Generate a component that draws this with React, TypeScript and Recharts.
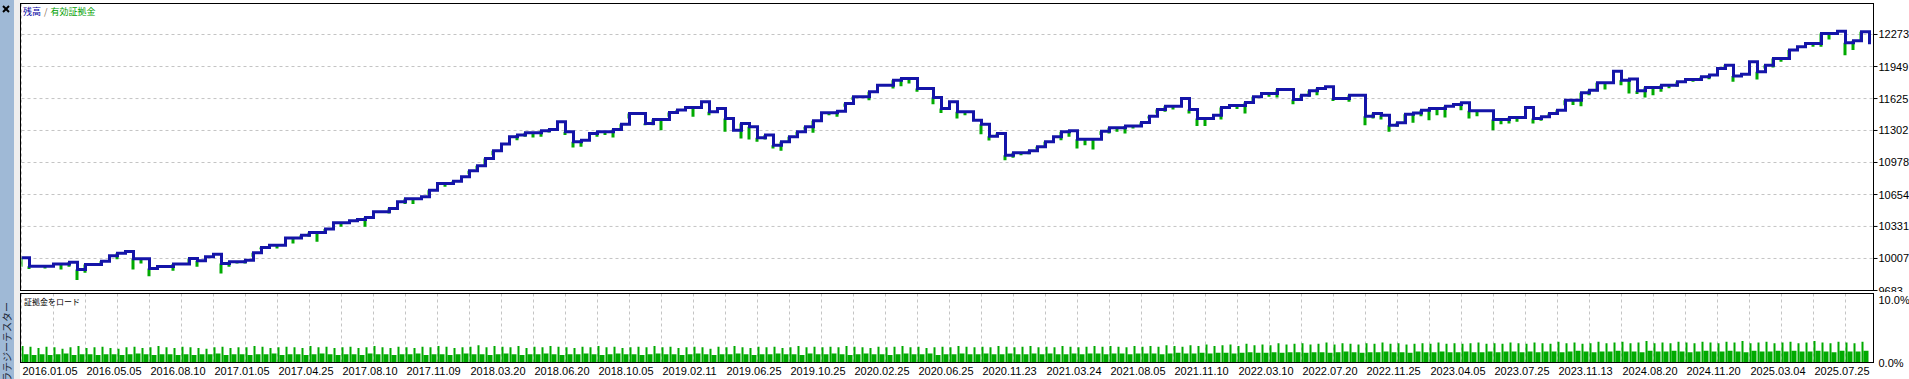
import { ComposedChart, Line, Bar, XAxis, YAxis, CartesianGrid } from 'recharts';

// balance, one value per 8px trade step
const balance = [
  10014, 9929, 9929, 9929, 9950, 9950, 9970, 9896, 9946, 9946,
  9980, 10034, 10061, 10078, 10004, 10004, 9906, 9926, 9926, 9950,
  9950, 10007, 9983, 10024, 10051, 9956, 9973, 9973, 9990, 10064,
  10118, 10142, 10142, 10213, 10213, 10243, 10270, 10270, 10304, 10368,
  10368, 10388, 10402, 10422, 10479, 10479, 10513, 10580, 10611, 10611,
  10631, 10698, 10766, 10766, 10789, 10833, 10894, 10944, 11019, 11096,
  11164, 11238, 11255, 11278, 11278, 11298, 11312, 11390, 11288, 11187,
  11204, 11271, 11288, 11288, 11312, 11366, 11474, 11474, 11373, 11413,
  11413, 11484, 11508, 11535, 11535, 11592, 11491, 11524, 11423, 11305,
  11373, 11339, 11228, 11255, 11153, 11187, 11238, 11288, 11339, 11400,
  11481, 11481, 11497, 11575, 11642, 11642, 11693, 11760, 11760, 11811,
  11828, 11828, 11727, 11727, 11636, 11524, 11592, 11491, 11491, 11406,
  11366, 11244, 11271, 11052, 11076, 11076, 11096, 11137, 11187, 11238,
  11288, 11298, 11214, 11214, 11214, 11295, 11329, 11329, 11346, 11346,
  11383, 11447, 11514, 11548, 11548, 11626, 11514, 11423, 11423, 11457,
  11535, 11555, 11555, 11585, 11643, 11676, 11676, 11717, 11717, 11615,
  11659, 11703, 11727, 11744, 11626, 11626, 11659, 11659, 11447, 11474,
  11457, 11356, 11380, 11467, 11480, 11507, 11524, 11524, 11548, 11565,
  11582, 11501, 11501, 11501, 11413, 11413, 11433, 11433, 11534, 11423,
  11440, 11474, 11507, 11609, 11609, 11683, 11710, 11784, 11784, 11900,
  11811, 11824, 11703, 11737, 11737, 11760, 11760, 11794, 11818, 11818,
  11845, 11862, 11929, 11963, 11852, 11872, 11997, 11895, 11963, 12030,
  12030, 12115, 12148, 12182, 12182, 12283, 12283, 12307, 12189, 12209,
  12300, 12175,
];

// equity drawdown spikes: [step index, lowest equity]
const equityDips: [number, number][] = [
  [0, 9923], [1, 9900], [3, 9906], [5, 9896], [6, 9923], [7, 9788], [8, 9862], [10, 9940],
  [12, 10000], [14, 9896], [15, 9956], [16, 9828], [19, 9882], [21, 9956], [22, 9923],
  [25, 9855], [26, 9923], [27, 9956], [28, 9956], [29, 10024], [30, 10100], [32, 10108],
  [34, 10159], [35, 10209], [36, 10226], [37, 10176], [38, 10260], [40, 10327], [42, 10378],
  [43, 10327], [46, 10462], [48, 10557], [49, 10557], [51, 10648], [53, 10732], [54, 10750],
  [56, 10860], [57, 10910], [58, 10951], [59, 11052], [62, 11204], [63, 11238], [64, 11231],
  [65, 11238], [66, 11281], [68, 11255], [69, 11130], [70, 11137], [72, 11238], [73, 11255],
  [74, 11231], [75, 11322], [76, 11423], [78, 11356], [79, 11356], [80, 11305], [81, 11440],
  [82, 11474], [84, 11440], [86, 11457], [88, 11288], [90, 11221], [91, 11211], [92, 11187],
  [93, 11211], [94, 11120], [95, 11096], [96, 11187], [97, 11255], [98, 11310], [99, 11278],
  [101, 11457], [102, 11440], [103, 11541], [104, 11610], [106, 11608], [109, 11727],
  [110, 11750], [111, 11777], [112, 11693], [114, 11568], [115, 11480], [117, 11423],
  [118, 11457], [120, 11264], [121, 11200], [122, 11238], [123, 11002], [124, 11025],
  [125, 11052], [126, 11062], [127, 11109], [128, 11143], [130, 11204], [131, 11238],
  [132, 11120], [133, 11153], [134, 11109], [135, 11255], [136, 11271], [137, 11288],
  [138, 11271], [139, 11322], [140, 11350], [141, 11423], [142, 11474], [143, 11491],
  [144, 11514], [146, 11474], [147, 11346], [148, 11346], [150, 11413], [152, 11520],
  [153, 11474], [154, 11595], [156, 11643], [157, 11636], [159, 11568], [160, 11602],
  [161, 11643], [162, 11659], [164, 11600], [166, 11592], [168, 11356], [169, 11423],
  [170, 11413], [171, 11288], [172, 11339], [173, 11390], [174, 11380], [175, 11447],
  [176, 11406], [177, 11457], [178, 11433], [180, 11507], [181, 11423], [182, 11447],
  [184, 11305], [185, 11366], [186, 11373], [187, 11390], [189, 11373], [190, 11400],
  [191, 11447], [192, 11480], [193, 11558], [194, 11560], [195, 11548], [196, 11659],
  [197, 11700], [198, 11717], [200, 11760], [201, 11676], [202, 11670], [203, 11636],
  [204, 11659], [205, 11693], [206, 11730], [207, 11744], [209, 11794], [210, 11810],
  [211, 11820], [213, 11929], [214, 11794], [217, 11818], [218, 11929], [219, 11939],
  [220, 11997], [221, 12040], [224, 12148], [225, 12148], [226, 12222], [228, 12064],
  [229, 12115], [230, 12216],
];

// margin load %, one cell per step: tall narrow spike + lower block
const marginPeak = [
  2.4, 2.3, 2.1, 2.3, 2.2, 2.0, 2.2, 2.4, 2.1, 2.2, 2.3, 2.1, 2.0, 2.2, 2.3, 2.1, 2.2, 2.4, 2.2, 2.1,
  2.3, 2.2, 2.1, 2.0, 2.2, 2.3, 2.1, 2.2, 2.2, 2.4, 2.3, 2.1, 2.2, 2.3, 2.2, 2.1, 2.4, 2.2, 2.3, 2.1,
  2.2, 2.3, 2.1, 2.2, 2.4, 2.2, 2.1, 2.3, 2.2, 2.1, 2.3, 2.2, 2.4, 2.3, 2.1, 2.2, 2.3, 2.5, 2.2, 2.4,
  2.3, 2.2, 2.4, 2.1, 2.3, 2.2, 2.4, 2.3, 2.2, 2.1, 2.3, 2.2, 2.4, 2.2, 2.3, 2.1, 2.2, 2.3, 2.2, 2.4,
  2.2, 2.3, 2.1, 2.2, 2.3, 2.2, 2.0, 2.3, 2.2, 2.4, 2.2, 2.1, 2.3, 2.2, 2.3, 2.1, 2.2, 2.4, 2.2, 2.3,
  2.2, 2.3, 2.2, 2.4, 2.3, 2.2, 2.1, 2.3, 2.2, 2.3, 2.4, 2.2, 2.3, 2.1, 2.2, 2.3, 2.2, 2.4, 2.3, 2.2,
  2.3, 2.2, 2.4, 2.3, 2.2, 2.3, 2.4, 2.2, 2.3, 2.2, 2.4, 2.3, 2.2, 2.3, 2.4, 2.3, 2.4, 2.3, 2.2, 2.4,
  2.3, 2.4, 2.3, 2.5, 2.4, 2.3, 2.5, 2.4, 2.6, 2.4, 2.5, 2.6, 2.4, 2.7, 2.5, 2.6, 2.5, 2.8, 2.6, 2.7,
  2.8, 2.6, 2.7, 2.9, 2.6, 2.8, 2.7, 2.6, 2.8, 2.7, 2.9, 2.7, 2.8, 2.6, 2.7, 2.8, 2.7, 2.9, 2.7, 2.8,
  2.7, 2.8, 2.9, 2.7, 2.8, 2.7, 2.9, 2.8, 2.7, 2.9, 2.8, 2.7, 3.0, 2.8, 2.9, 2.7, 2.8, 3.0, 2.8, 2.9,
  3.0, 2.8, 2.9, 3.1, 2.8, 2.9, 2.8, 3.0, 2.9, 2.8, 3.0, 2.9, 2.8, 3.0, 2.9, 3.1, 2.8, 2.9, 3.0, 2.8,
  2.9, 3.0, 2.8, 2.9, 3.1, 2.9, 2.8, 3.0, 2.9, 2.8, 3.0,
];
const marginBase = [
  1.2, 1.1, 1.2, 1.1, 1.2, 1.3, 1.1, 1.2, 1.2, 1.1, 1.2, 1.2, 1.1, 1.2, 1.3, 1.2, 1.1, 1.2, 1.2, 1.1,
  1.2, 1.1, 1.2, 1.2, 1.3, 1.1, 1.2, 1.2, 1.1, 1.2, 1.2, 1.3, 1.1, 1.2, 1.2, 1.1, 1.2, 1.3, 1.2, 1.1,
  1.2, 1.2, 1.1, 1.3, 1.2, 1.2, 1.1, 1.2, 1.2, 1.3, 1.1, 1.2, 1.2, 1.1, 1.2, 1.3, 1.2, 1.2, 1.1, 1.2,
  1.3, 1.2, 1.1, 1.2, 1.2, 1.3, 1.2, 1.1, 1.2, 1.2, 1.3, 1.2, 1.1, 1.2, 1.3, 1.2, 1.2, 1.1, 1.2, 1.3,
  1.2, 1.2, 1.1, 1.2, 1.3, 1.2, 1.1, 1.2, 1.2, 1.3, 1.2, 1.1, 1.2, 1.2, 1.3, 1.2, 1.2, 1.1, 1.3, 1.2,
  1.2, 1.3, 1.2, 1.1, 1.2, 1.3, 1.2, 1.2, 1.1, 1.2, 1.3, 1.2, 1.2, 1.3, 1.1, 1.2, 1.2, 1.3, 1.2, 1.2,
  1.3, 1.2, 1.2, 1.3, 1.2, 1.2, 1.3, 1.2, 1.3, 1.2, 1.2, 1.3, 1.2, 1.3, 1.3, 1.2, 1.3, 1.3, 1.2, 1.3,
  1.3, 1.3, 1.2, 1.3, 1.4, 1.3, 1.3, 1.4, 1.3, 1.4, 1.4, 1.3, 1.4, 1.5, 1.4, 1.4, 1.5, 1.4, 1.5, 1.5,
  1.4, 1.5, 1.5, 1.4, 1.5, 1.6, 1.5, 1.4, 1.5, 1.5, 1.6, 1.5, 1.5, 1.4, 1.6, 1.5, 1.5, 1.6, 1.5, 1.5,
  1.6, 1.5, 1.5, 1.6, 1.5, 1.6, 1.6, 1.5, 1.6, 1.5, 1.6, 1.6, 1.5, 1.6, 1.7, 1.6, 1.5, 1.6, 1.6, 1.7,
  1.6, 1.6, 1.5, 1.7, 1.6, 1.6, 1.7, 1.6, 1.5, 1.6, 1.7, 1.6, 1.6, 1.7, 1.6, 1.5, 1.7, 1.6, 1.6, 1.7,
  1.6, 1.7, 1.6, 1.6, 1.7, 1.6, 1.5, 1.7, 1.6, 1.6, 1.7,
];

const balanceTicks = [9683, 10007, 10331, 10654, 10978, 11302, 11625, 11949, 12273];
const marginTicks = [0, 10];
const dateLabels = [
  '2016.01.05', '2016.05.05', '2016.08.10', '2017.01.05', '2017.04.25', '2017.08.10',
  '2017.11.09', '2018.03.20', '2018.06.20', '2018.10.05', '2019.02.11', '2019.06.25',
  '2019.10.25', '2020.02.25', '2020.06.25', '2020.11.23', '2021.03.24', '2021.08.05',
  '2021.11.10', '2022.03.10', '2022.07.20', '2022.11.25', '2023.04.05', '2023.07.25',
  '2023.11.13', '2024.08.20', '2024.11.20', '2025.03.04', '2025.07.25',
];

// x unit = one grid column (32px); a step is a quarter of it
const STEP = 0.25;
const X_MAX = 57.875;
const gridTicks = Array.from({ length: 58 }, (_, i) => i);

const dips = new Map(equityDips);
const upperRows = balance.map((b, i) => ({
  x: i * STEP,
  balance: b,
  spike: dips.has(i) ? [dips.get(i), b] : null,
}));
const lowerRows = marginPeak.map((p, i) => ({ x: i * STEP + STEP / 2, peak: p, base: marginBase[i] }));

const FONT = '"Liberation Sans", Arial, sans-serif';
const JP = '"Noto Sans CJK JP", sans-serif';
const BLUE = '#1414a8';
const GREEN = '#00aa00';
const GRID = '#c4c4c4';

function BalanceTick({ x, y, payload }: any) {
  return (
    <text x={x} y={y} dy={4} fontSize={11} fontFamily={FONT} fill="#000" textAnchor="start">
      {payload.value}
    </text>
  );
}

function PctTick({ x, y, payload }: any) {
  return (
    <text x={x} y={y} dy={payload.value === 10 ? 10 : 4.5} fontSize={11} fontFamily={FONT} fill="#000" textAnchor="start">
      {payload.value.toFixed(1)}%
    </text>
  );
}

function DateTick({ x, y, payload }: any) {
  const label = payload.value % 2 === 0 ? dateLabels[payload.value / 2] : undefined;
  if (!label) return <g />;
  return (
    <text x={x + 1} y={y} dy={12.5} fontSize={11} fontFamily={FONT} fill="#000" textAnchor="start">
      {label}
    </text>
  );
}

export default function App() {
  return (
    <div style={{ position: 'fixed', left: 0, top: 0, width: 1909, height: 379, background: '#fff', overflow: 'hidden' }}>
      {/* tester side tab */}
      <div style={{ position: 'absolute', left: 0, top: 0, width: 14, height: 379, background: '#9fb9d6' }} />
      <div style={{ position: 'absolute', left: 14, top: 0, width: 6, height: 379, background: '#eeeeee' }} />
      <svg style={{ position: 'absolute', left: 0, top: 0 }} width={14} height={16}>
        <line x1={3} y1={6} x2={9} y2={12} stroke="#000" strokeWidth={2} />
        <line x1={9} y1={6} x2={3} y2={12} stroke="#000" strokeWidth={2} />
      </svg>
      <div
        style={{
          position: 'absolute', left: 1, top: 402, transformOrigin: '0 0', transform: 'rotate(-90deg)',
          whiteSpace: 'nowrap', fontFamily: JP, fontSize: 10, lineHeight: '12px', color: '#1e2a3a',
        }}
      >
        ストラテジーテスター
      </div>

      <div style={{ position: 'absolute', left: 0, top: 0 }}>
        <ComposedChart width={1909} height={292} data={upperRows} margin={{ top: 3.5, right: 0, bottom: 1.5, left: 21.5 }}>
          <CartesianGrid stroke={GRID} strokeDasharray="3 3" />
          <XAxis
            type="number"
            dataKey="x"
            domain={[0, X_MAX]}
            ticks={gridTicks}
            interval={0}
            allowDataOverflow
            tick={false}
            tickLine={false}
            axisLine={false}
            height={0}
          />
          <YAxis
            orientation="right"
            width={35.5}
            domain={[9683, 12586.6]}
            ticks={balanceTicks}
            interval={0}
            allowDataOverflow
            axisLine={false}
            tickLine={{ stroke: '#000' }}
            tickSize={4}
            tickMargin={1}
            tick={<BalanceTick />}
          />
          <Bar dataKey="spike" fill={GREEN} barSize={3} isAnimationActive={false} />
          <Line type="stepAfter" dataKey="balance" stroke={BLUE} strokeWidth={3} dot={false} isAnimationActive={false} />
        </ComposedChart>
      </div>

      <div style={{ position: 'absolute', left: 0, top: 292 }}>
        <ComposedChart width={1909} height={87} data={lowerRows} barGap={0} margin={{ top: 1.5, right: 0, bottom: 0, left: 21.5 }}>
          <CartesianGrid stroke={GRID} strokeDasharray="3 3" horizontal={false} />
          <XAxis
            type="number"
            dataKey="x"
            domain={[0, X_MAX]}
            ticks={gridTicks}
            interval={0}
            allowDataOverflow
            tickLine={false}
            axisLine={false}
            tickSize={0}
            tickMargin={0}
            height={16.5}
            tick={<DateTick />}
          />
          <YAxis
            orientation="right"
            width={35.5}
            domain={[0, 10]}
            ticks={marginTicks}
            interval={0}
            allowDataOverflow
            axisLine={false}
            tickLine={false}
            tickSize={4}
            tickMargin={1}
            tick={<PctTick />}
          />
          <Bar dataKey="peak" fill={GREEN} barSize={2} isAnimationActive={false} />
          <Bar dataKey="base" fill={GREEN} barSize={5} isAnimationActive={false} />
        </ComposedChart>
      </div>

      {/* panel frames */}
      <div style={{ position: 'absolute', left: 20, top: 3, width: 1854, height: 288, border: '1px solid #000', boxSizing: 'border-box' }} />
      <div style={{ position: 'absolute', left: 20, top: 293, width: 1854, height: 70, border: '1px solid #000', boxSizing: 'border-box' }} />

      <div style={{ position: 'absolute', left: 23, top: 6, fontFamily: JP, fontSize: 9, lineHeight: '12px', whiteSpace: 'nowrap' }}>
        <span style={{ color: '#0000a0' }}>残高</span>
        <span style={{ color: '#8a6a50', padding: '0 3px' }}>/</span>
        <span style={{ color: '#00a000' }}>有効証拠金</span>
      </div>
      <div style={{ position: 'absolute', left: 24, top: 296, fontFamily: JP, fontSize: 8, lineHeight: '11px', whiteSpace: 'nowrap', color: '#000' }}>
        証拠金をロード
      </div>
    </div>
  );
}
